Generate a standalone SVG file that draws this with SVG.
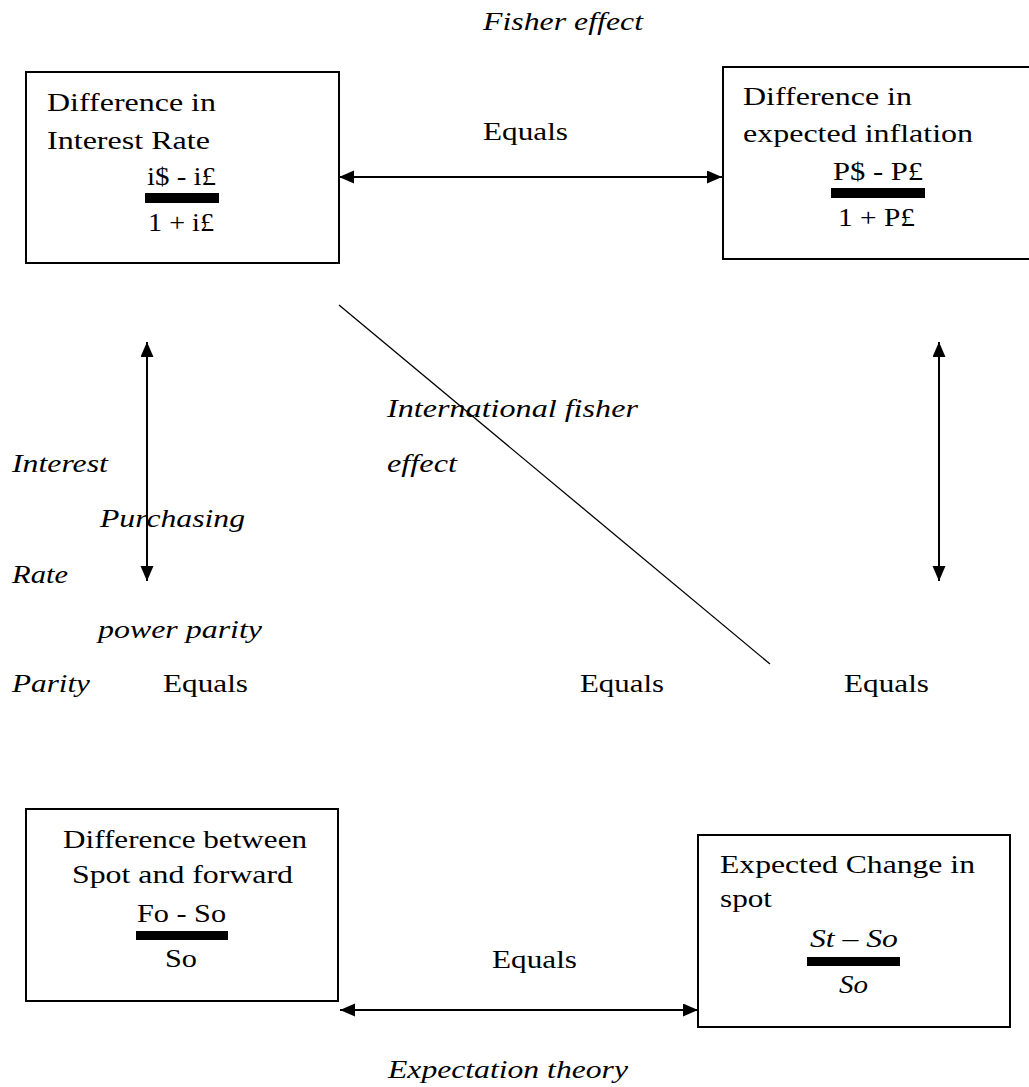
<svg xmlns="http://www.w3.org/2000/svg" width="1029" height="1087" viewBox="0 0 1029 1087">
<defs>
<style>
text{font-family:"Liberation Serif","Times New Roman",serif;font-size:26px;fill:#000}
.it{font-style:italic}
.box{fill:#fff;stroke:#000;stroke-width:2}
.bar{fill:#000}
.conn{stroke:#000;stroke-width:2;fill:none}
.diag{stroke:#000;stroke-width:1.3;fill:none}
</style>
<marker id="ah" markerUnits="userSpaceOnUse" markerWidth="16" markerHeight="14" refX="15" refY="6.5" orient="auto-start-reverse">
<path d="M0,0 L15,6.5 L0,13 z" fill="#000"/>
</marker>
</defs>
<rect width="1029" height="1087" fill="#fff"/>

<g id="connectors">
<line class="conn" x1="339" y1="177" x2="722" y2="177" marker-start="url(#ah)" marker-end="url(#ah)"/>
<line class="conn" x1="147" y1="342" x2="147" y2="581" marker-start="url(#ah)" marker-end="url(#ah)"/>
<line class="conn" x1="939" y1="342" x2="939" y2="581" marker-start="url(#ah)" marker-end="url(#ah)"/>
<line class="diag" x1="339" y1="305" x2="770" y2="664"/>
<line class="conn" x1="340" y1="1010" x2="698" y2="1010" marker-start="url(#ah)" marker-end="url(#ah)"/>
</g>

<g id="interest-rate">
<rect class="box" x="26" y="72" width="313" height="191"/>
<text transform="translate(47,111) scale(1.23,1)" textLength="137.4" lengthAdjust="spacingAndGlyphs">Difference in</text>
<text transform="translate(47,149) scale(1.23,1)" textLength="132.5" lengthAdjust="spacingAndGlyphs">Interest Rate</text>
<text transform="translate(147,185) scale(1.23,1)" textLength="56.1" lengthAdjust="spacingAndGlyphs">i$ - i£</text>
<rect class="bar" x="145" y="193" width="74" height="10"/>
<text transform="translate(148,231) scale(1.23,1)" textLength="53.7" lengthAdjust="spacingAndGlyphs">1 + i£</text>
</g>

<g id="inflation">
<rect class="box" x="723" y="67" width="320" height="192"/>
<text transform="translate(743,105) scale(1.23,1)" textLength="137.4" lengthAdjust="spacingAndGlyphs">Difference in</text>
<text transform="translate(743,142) scale(1.23,1)" textLength="187" lengthAdjust="spacingAndGlyphs">expected inflation</text>
<text transform="translate(833,180) scale(1.23,1)" textLength="73.2" lengthAdjust="spacingAndGlyphs">P$ - P£</text>
<rect class="bar" x="831" y="188" width="94" height="10"/>
<text transform="translate(838,226) scale(1.23,1)" textLength="62.6" lengthAdjust="spacingAndGlyphs">1 + P£</text>
</g>

<g id="spot-forward">
<rect class="box" x="26" y="809" width="312" height="192"/>
<text transform="translate(63,848) scale(1.23,1)" textLength="198.4" lengthAdjust="spacingAndGlyphs">Difference between</text>
<text transform="translate(72,883) scale(1.23,1)" textLength="179.7" lengthAdjust="spacingAndGlyphs">Spot and forward</text>
<text transform="translate(137,922) scale(1.23,1)" textLength="72.4" lengthAdjust="spacingAndGlyphs">Fo - So</text>
<rect class="bar" x="136" y="931" width="92" height="9"/>
<text transform="translate(165,967) scale(1.23,1)" textLength="26" lengthAdjust="spacingAndGlyphs">So</text>
</g>

<g id="expected-change">
<rect class="box" x="698" y="835" width="312" height="192"/>
<text transform="translate(720,873) scale(1.23,1)" textLength="207.3" lengthAdjust="spacingAndGlyphs">Expected Change in</text>
<text transform="translate(720,907) scale(1.23,1)" textLength="42.3" lengthAdjust="spacingAndGlyphs">spot</text>
<text class="it" transform="translate(810,947) scale(1.23,1)" textLength="71.5" lengthAdjust="spacingAndGlyphs">St – So</text>
<rect class="bar" x="807" y="957" width="93" height="9"/>
<text class="it" transform="translate(839,993) scale(1.23,1)" textLength="23.6" lengthAdjust="spacingAndGlyphs">So</text>
</g>

<g id="labels">
<text class="it" transform="translate(483,30) scale(1.23,1)" textLength="130.1" lengthAdjust="spacingAndGlyphs">Fisher effect</text>
<text transform="translate(483,140) scale(1.23,1)" textLength="69.1" lengthAdjust="spacingAndGlyphs">Equals</text>
<text class="it" transform="translate(12,472) scale(1.23,1)" textLength="78" lengthAdjust="spacingAndGlyphs">Interest</text>
<text class="it" transform="translate(100,527) scale(1.23,1)" textLength="117.9" lengthAdjust="spacingAndGlyphs">Purchasing</text>
<text class="it" transform="translate(12,583) scale(1.23,1)" textLength="45.5" lengthAdjust="spacingAndGlyphs">Rate</text>
<text class="it" transform="translate(98,638) scale(1.23,1)" textLength="133.3" lengthAdjust="spacingAndGlyphs">power parity</text>
<text class="it" transform="translate(12,692) scale(1.23,1)" textLength="63.4" lengthAdjust="spacingAndGlyphs">Parity</text>
<text transform="translate(163,692) scale(1.23,1)" textLength="69.1" lengthAdjust="spacingAndGlyphs">Equals</text>
<text class="it" transform="translate(387,417) scale(1.23,1)" textLength="204" lengthAdjust="spacingAndGlyphs">International fisher</text>
<text class="it" transform="translate(387,472) scale(1.23,1)" textLength="56.9" lengthAdjust="spacingAndGlyphs">effect</text>
<text transform="translate(580,692) scale(1.23,1)" textLength="68.3" lengthAdjust="spacingAndGlyphs">Equals</text>
<text transform="translate(844,692) scale(1.23,1)" textLength="69.1" lengthAdjust="spacingAndGlyphs">Equals</text>
<text transform="translate(492,968) scale(1.23,1)" textLength="69.1" lengthAdjust="spacingAndGlyphs">Equals</text>
<text class="it" transform="translate(388,1078) scale(1.23,1)" textLength="195.1" lengthAdjust="spacingAndGlyphs">Expectation theory</text>
</g>
</svg>
